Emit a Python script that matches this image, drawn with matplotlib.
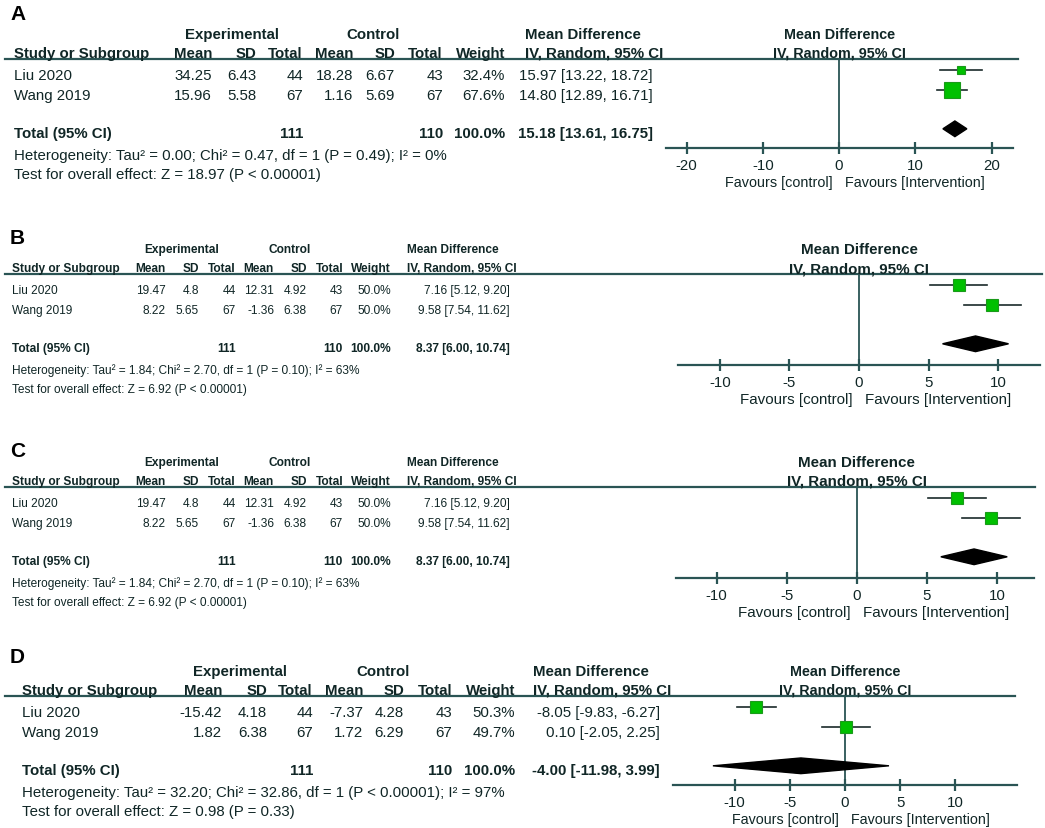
import numpy as np
import matplotlib
matplotlib.use("Agg")
import matplotlib.pyplot as plt
from matplotlib.lines import Line2D
from matplotlib.patches import Polygon

plt.rcParams["axes.unicode_minus"] = False

# data, one entry per panel (A-D), two studies each
panels = ["A", "B", "C", "D"]
studies = ["Liu 2020", "Wang 2019"]
exp_mean = [[34.25, 15.96], [19.47, 8.22], [19.47, 8.22], [-15.42, 1.82]]
exp_sd = [[6.43, 5.58], [4.8, 5.65], [4.8, 5.65], [4.18, 6.38]]
exp_n = [[44, 67], [44, 67], [44, 67], [44, 67]]
ctl_mean = [[18.28, 1.16], [12.31, -1.36], [12.31, -1.36], [-7.37, 1.72]]
ctl_sd = [[6.67, 5.69], [4.92, 6.38], [4.92, 6.38], [4.28, 6.29]]
ctl_n = [[43, 67], [43, 67], [43, 67], [43, 67]]
weight = [[32.4, 67.6], [50.0, 50.0], [50.0, 50.0], [50.3, 49.7]]
md = [[15.97, 14.80], [7.16, 9.58], [7.16, 9.58], [-8.05, 0.10]]
md_lo = [[13.22, 12.89], [5.12, 7.54], [5.12, 7.54], [-9.83, -2.05]]
md_hi = [[18.72, 16.71], [9.20, 11.62], [9.20, 11.62], [-6.27, 2.25]]
tot_exp = [111, 111, 111, 111]
tot_ctl = [110, 110, 110, 110]
tot_md = [15.18, 8.37, 8.37, -4.00]
tot_lo = [13.61, 6.00, 6.00, -11.98]
tot_hi = [16.75, 10.74, 10.74, 3.99]
tau2 = [0.00, 1.84, 1.84, 32.20]
chi2 = [0.47, 2.70, 2.70, 32.86]
het_p = ["= 0.49", "= 0.10", "= 0.10", "< 0.00001"]
i2 = [0, 63, 63, 97]
z_val = [18.97, 6.92, 6.92, 0.98]
z_p = ["< 0.00001", "< 0.00001", "< 0.00001", "= 0.33"]
xticks = [[-20, -10, 0, 10, 20], [-10, -5, 0, 5, 10], [-10, -5, 0, 5, 10], [-10, -5, 0, 5, 10]]

# layout (pixels)
W, H = 1045, 829
header_y = [60, 275, 488, 697]
letter_y = [15, 238, 452, 658]
axis_y = [149, 366, 579, 786]
ax_x = [(666, 1013), (678, 1040), (676, 1034), (673, 1017)]
xlims = [(-22.7, 22.8), (-13.0, 13.0), (-12.9, 12.65), (-15.6, 15.6)]
line_end = [1018, 1042, 1035, 1015]
# study, mean, sd, total, mean, sd, total, weight, md right, md header left, exp ctr, ctl ctr
cols_A = [14, 212, 256, 303, 353, 395, 443, 505, 653, 525, 232, 373]
cols_B = [12, 166, 199, 236, 274, 307, 343, 391, 510, 407, 182, 290]
cols_D = [22, 222, 267, 313, 363, 404, 452, 515, 660, 533, 240, 383]
cols = [cols_A, cols_B, cols_B, cols_D]
tab_size = [10.8, 8.6, 8.6, 10.8]
fr_size = [10.4, 10.9, 10.9, 10.3]

TXT = "#102626"
LN = "#2a5454"
GREEN = "#00c000"
GREEN_E = "#1a9a1a"
PITCH = 19.6
FAM = ["Liberation Sans", "DejaVu Sans"]

fig = plt.figure(figsize=(W / 100, H / 100), dpi=100)


def txt(x, y, s, size, ha="left", bold=False, color=TXT):
    fig.text(x / W, 1 - y / H, s, ha=ha, va="center", fontsize=size,
             fontweight="bold" if bold else "normal", family=FAM, color=color)


def f(v):
    return f"{v:g}"


for p in range(4):
    h0 = header_y[p]
    c = cols[p]
    ts = tab_size[p]
    fs = fr_size[p]
    # panel letter
    txt(10, letter_y[p], panels[p], 15, bold=True, color="black")
    # header rows
    txt(c[10], h0 - 25, "Experimental", ts, ha="center", bold=True)
    txt(c[11], h0 - 25, "Control", ts, ha="center", bold=True)
    txt(c[9], h0 - 25, "Mean Difference", ts, bold=True)
    txt(c[0], h0 - 6, "Study or Subgroup", ts, bold=True)
    for x, s in zip(c[1:8], ["Mean", "SD", "Total", "Mean", "SD", "Total", "Weight"]):
        txt(x, h0 - 6, s, ts, ha="right", bold=True)
    txt(c[9], h0 - 6, "IV, Random, 95% CI", ts, bold=True)
    fig.add_artist(Line2D([5 / W, line_end[p] / W], [1 - h0 / H] * 2,
                          transform=fig.transFigure, color=LN, lw=1.6))

    # study rows
    for i, name in enumerate(studies):
        y = h0 + 16 + 20 * i
        txt(c[0], y, name, ts)
        vals = [f(exp_mean[p][i]), f(exp_sd[p][i]), str(exp_n[p][i]),
                f(ctl_mean[p][i]), f(ctl_sd[p][i]), str(ctl_n[p][i]),
                f"{weight[p][i]:.1f}%",
                f"{md[p][i]:.2f} [{md_lo[p][i]:.2f}, {md_hi[p][i]:.2f}]"]
        for x, s in zip(c[1:9], vals):
            txt(x, y, s, ts, ha="right")
    yt = h0 + 74
    txt(c[0], yt, "Total (95% CI)", ts, bold=True)
    txt(c[3], yt, str(tot_exp[p]), ts, ha="right", bold=True)
    txt(c[6], yt, str(tot_ctl[p]), ts, ha="right", bold=True)
    txt(c[7], yt, "100.0%", ts, ha="right", bold=True)
    txt(c[8], yt, f"{tot_md[p]:.2f} [{tot_lo[p]:.2f}, {tot_hi[p]:.2f}]", ts, ha="right", bold=True)
    txt(c[0], h0 + 96, f"Heterogeneity: Tau\u00b2 = {tau2[p]:.2f}; Chi\u00b2 = {chi2[p]:.2f}, "
                       f"df = 1 (P {het_p[p]}); I\u00b2 = {i2[p]}%", ts)
    txt(c[0], h0 + 115, f"Test for overall effect: Z = {z_val[p]:.2f} (P {z_p[p]})", ts)

    # forest plot
    x0, x1 = ax_x[p]
    hpx = axis_y[p] - h0
    ax = fig.add_axes([x0 / W, 1 - axis_y[p] / H, (x1 - x0) / W, hpx / H])
    ax.patch.set_visible(False)
    top = -11 / PITCH
    ax.set_ylim(top + hpx / PITCH, top)
    ax.set_xlim(*xlims[p])
    for s in ["top", "left", "right"]:
        ax.spines[s].set_visible(False)
    ax.spines["bottom"].set_color(LN)
    ax.spines["bottom"].set_linewidth(1.6)
    ax.set_yticks([])
    ax.set_xticks(xticks[p])
    ax.tick_params(axis="x", direction="inout", length=9, width=1.6, color=LN,
                   labelcolor=TXT, labelsize=10.8, pad=3)
    for lab in ax.get_xticklabels():
        lab.set_family(FAM)
    ax.axvline(0, color=LN, lw=1.3, zorder=1)
    for i in range(2):
        ax.plot([md_lo[p][i], md_hi[p][i]], [i, i], color="#1a2a2a", lw=1.2, zorder=2)
        side = 2.5 + 0.2 * weight[p][i]
        ax.plot(md[p][i], i, marker="s", ms=side * 0.72, mfc=GREEN, mec=GREEN_E, mew=0.8, zorder=3)
    ax.add_patch(Polygon([(tot_lo[p], 3), (tot_md[p], 3 - 0.4), (tot_hi[p], 3), (tot_md[p], 3 + 0.4)],
                         closed=True, color="black", zorder=3))

    # forest headers and favours labels
    xl = xlims[p]
    zero_px = x0 + (0 - xl[0]) / (xl[1] - xl[0]) * (x1 - x0)
    txt(zero_px, h0 - 25, "Mean Difference", fs, ha="center", bold=True)
    txt(zero_px, h0 - 6, "IV, Random, 95% CI", fs, ha="center", bold=True)
    txt(zero_px - 6, axis_y[p] + 34, "Favours [control]", fs, ha="right")
    txt(zero_px + 6, axis_y[p] + 34, "Favours [Intervention]", fs)

fig.savefig("out.png", dpi=100, facecolor="white")
